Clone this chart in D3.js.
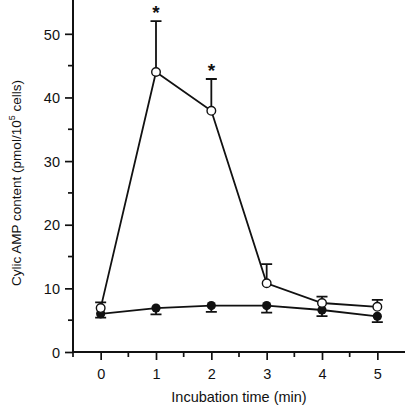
<!DOCTYPE html>
<html><head><meta charset="utf-8">
<script src="https://cdn.jsdelivr.net/npm/d3@7"></script>
<style>body{margin:0;background:#fff}svg{display:block}text{font-family:"Liberation Sans",Arial,sans-serif;fill:#111}</style>
</head><body><svg id="c" width="406" height="410"></svg>
<script>
const times = [0, 1, 2, 3, 4, 5];
const openVals = [6.9, 44.0, 37.9, 10.8, 7.7, 7.1];
const openSem = [0.9, 8.0, 5.0, 3.0, 1.0, 1.1];
const filledVals = [6.0, 6.9, 7.3, 7.3, 6.6, 5.6];
const filledSem = [0.6, 1.0, 1.0, 1.1, 0.95, 0.9];
const sigTimes = [1, 2];
const yTicks = [0, 10, 20, 30, 40, 50];
const xTicks = [0, 1, 2, 3, 4, 5];

const svg = d3.select("#c");
const x = d3.scaleLinear().domain([-0.5, 5.5]).range([73, 405]);
const y = d3.scaleLinear().domain([0, 55]).range([352, 2]);
const ink = "#111";

// axes
const yAxis = d3.axisLeft(y).tickValues(yTicks).tickSize(8).tickSizeOuter(0).tickPadding(5).tickFormat(d3.format("d"));
const gy = svg.append("g").attr("transform", "translate(73,0)").call(yAxis);
gy.selectAll(".tick line").attr("stroke", ink).attr("stroke-width", 1.7);
gy.select(".domain").attr("stroke", ink).attr("stroke-width", 2).attr("d", `M0,${y(55)-2}V${y(0)}`);
gy.selectAll(".tick text").attr("font-size", 14.5).attr("dy", "0.36em");
svg.append("g").attr("transform", "translate(73,0)")
  .selectAll("line").data(d3.range(5, 55, 10)).join("line")
  .attr("x1", -5).attr("x2", 0).attr("y1", d => y(d)).attr("y2", d => y(d))
  .attr("stroke", ink).attr("stroke-width", 1.7);

const xAxis = d3.axisBottom(x).tickValues(xTicks).tickSize(8).tickSizeOuter(0).tickPadding(8).tickFormat(d3.format("d"));
const gx = svg.append("g").attr("transform", "translate(0,352)").call(xAxis);
gx.selectAll(".tick line").attr("stroke", ink).attr("stroke-width", 1.7);
gx.select(".domain").attr("stroke", ink).attr("stroke-width", 2).attr("d", `M${x(-0.5)-1},0H${x(5.5)}`);
gx.selectAll(".tick text").attr("font-size", 14.5).attr("y", 27).attr("dy", 0);
svg.append("g").attr("transform", "translate(0,352)")
  .selectAll("line").data(d3.range(-0.5, 5.5, 1)).join("line")
  .attr("x1", d => x(d)).attr("x2", d => x(d)).attr("y1", 0).attr("y2", 5)
  .attr("stroke", ink).attr("stroke-width", 1.7);

svg.append("text").attr("x", 239).attr("y", 402).attr("text-anchor", "middle").attr("font-size", 14.5).text("Incubation time (min)");
const yl = svg.append("text").attr("text-anchor", "start").attr("font-size", 13.5);
yl.append("tspan").text("Cylic AMP content (pmol/10");
yl.append("tspan").attr("font-size", 9).attr("dy", -6).text("5");
yl.append("tspan").attr("dy", 6).text(" cells)");
const labLen = yl.node().getBBox().width;
yl.attr("transform", `translate(21,${183 + labLen / 2}) rotate(-90)`);

const line = d3.line().x((d, i) => x(times[i])).y(d => y(d));
const cap = 5.5;

// filled series
const gf = svg.append("g");
gf.selectAll("path.eb").data(filledVals).join("path")
  .attr("d", (d, i) => `M${x(times[i])},${y(d)}V${y(d - filledSem[i])}M${x(times[i]) - cap},${y(d - filledSem[i])}h${2 * cap}`)
  .attr("stroke", ink).attr("stroke-width", 1.8).attr("fill", "none");
gf.append("path").datum(filledVals).attr("d", line).attr("fill", "none").attr("stroke", ink).attr("stroke-width", 1.8);
gf.selectAll("circle").data(filledVals).join("circle")
  .attr("cx", (d, i) => x(times[i])).attr("cy", d => y(d)).attr("r", 4.6).attr("fill", ink);

// open series
const go = svg.append("g");
go.selectAll("path.eb").data(openVals).join("path")
  .attr("d", (d, i) => `M${x(times[i])},${y(d)}V${y(d + openSem[i])}M${x(times[i]) - cap},${y(d + openSem[i])}h${2 * cap}`)
  .attr("stroke", ink).attr("stroke-width", 1.8).attr("fill", "none");
go.append("path").datum(openVals).attr("d", line).attr("fill", "none").attr("stroke", ink).attr("stroke-width", 1.8);
go.selectAll("circle").data(openVals).join("circle")
  .attr("cx", (d, i) => x(times[i])).attr("cy", d => y(d)).attr("r", 4.3).attr("fill", "#fff").attr("stroke", ink).attr("stroke-width", 1.4);

// significance
svg.selectAll("text.sig").data(sigTimes).join("text").attr("class", "sig")
  .attr("x", d => x(d)).attr("y", d => y(openVals[times.indexOf(d)] + openSem[times.indexOf(d)]) - 2)
  .attr("text-anchor", "middle").attr("font-size", 19).attr("font-weight", "bold").text("*");
</script></body></html>
